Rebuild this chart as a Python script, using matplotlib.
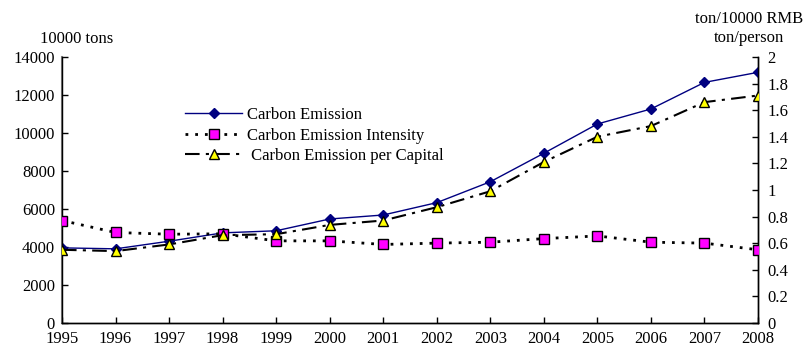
import matplotlib
matplotlib.use("Agg")
import matplotlib.pyplot as plt

years = [1995, 1996, 1997, 1998, 1999, 2000, 2001, 2002, 2003, 2004, 2005, 2006, 2007, 2008]
carbon_emission = [3950, 3900, 4300, 4740, 4850, 5470, 5680, 6330, 7430, 8930, 10470, 11260, 12660, 13190]
emission_intensity = [0.77, 0.68, 0.667, 0.67, 0.617, 0.617, 0.59, 0.60, 0.607, 0.634, 0.654, 0.607, 0.60, 0.55]
emission_per_capita = [0.55, 0.54, 0.59, 0.66, 0.667, 0.737, 0.77, 0.87, 0.99, 1.21, 1.40, 1.48, 1.66, 1.71]

left_ticks = [0, 2000, 4000, 6000, 8000, 10000, 12000, 14000]
right_ticks = [0, 0.2, 0.4, 0.6, 0.8, 1.0, 1.2, 1.4, 1.6, 1.8, 2.0]
right_tick_labels = ["0", "0.2", "0.4", "0.6", "0.8", "1", "1.2", "1.4", "1.6", "1.8", "2"]

plt.rcParams['font.family'] = ['Liberation Serif', 'DejaVu Serif']
fs = 12

fig = plt.figure(figsize=(8.05, 3.51), dpi=100)
ax = fig.add_axes([0.077, 0.080, 0.8646, 0.7578])
ax2 = ax.twinx()

l1, = ax.plot(years, carbon_emission, color='#000080', lw=1.0, marker='D', ms=5,
              mfc='#000080', mec='#000080', label='Carbon Emission', zorder=3)
l2, = ax2.plot(years, emission_intensity, color='black', lw=2.0, ls=(0, (1, 2.5)), marker='s', ms=6.5,
               mfc='#FF00FF', mec='black', mew=1.0, label='Carbon Emission Intensity', zorder=3)
l3, = ax2.plot(years, emission_per_capita, color='black', lw=1.5, ls=(0, (7, 3, 1.5, 3)), marker='^', ms=7,
               mfc='#FFFF00', mec='black', mew=1.0, label=' Carbon Emission per Capital', zorder=4)

ax.set_xlim(1995, 2008)
ax.set_ylim(0, 14000)
ax2.set_ylim(0, 2)
ax.set_xticks(years)
ax.set_xticklabels([str(y) for y in years], fontsize=fs)
ax.set_yticks(left_ticks)
ax.set_yticklabels([str(t) for t in left_ticks], fontsize=fs)
ax2.set_yticks(right_ticks)
ax2.set_yticklabels(right_tick_labels, fontsize=fs)

for a in (ax, ax2):
    a.spines['top'].set_visible(False)
    for s in a.spines.values():
        s.set_linewidth(1.0)
ax.spines['left'].set_color('#808080')
ax.spines['left'].set_linewidth(1.5)
ax.tick_params(axis='both', direction='in', length=4, width=1.0, pad=5)
ax2.tick_params(axis='y', direction='in', length=4, width=1.0, pad=7)
ax.tick_params(axis='x', pad=6)

fig.text(0.050, 0.89, '10000 tons', fontsize=fs, ha='left', va='center')
fig.text(0.998, 0.946, 'ton/10000 RMB', fontsize=fs, ha='right', va='center')
fig.text(0.931, 0.891, 'ton/person', fontsize=fs, ha='center', va='center')

fig.legend(handles=[l1, l2, l3], loc='upper left', bbox_to_anchor=(0.222, 0.714),
           frameon=False, fontsize=fs, handlelength=3.4, labelspacing=0.27, handletextpad=0.3,
           borderaxespad=0)

fig.savefig('out.png', dpi=100)
